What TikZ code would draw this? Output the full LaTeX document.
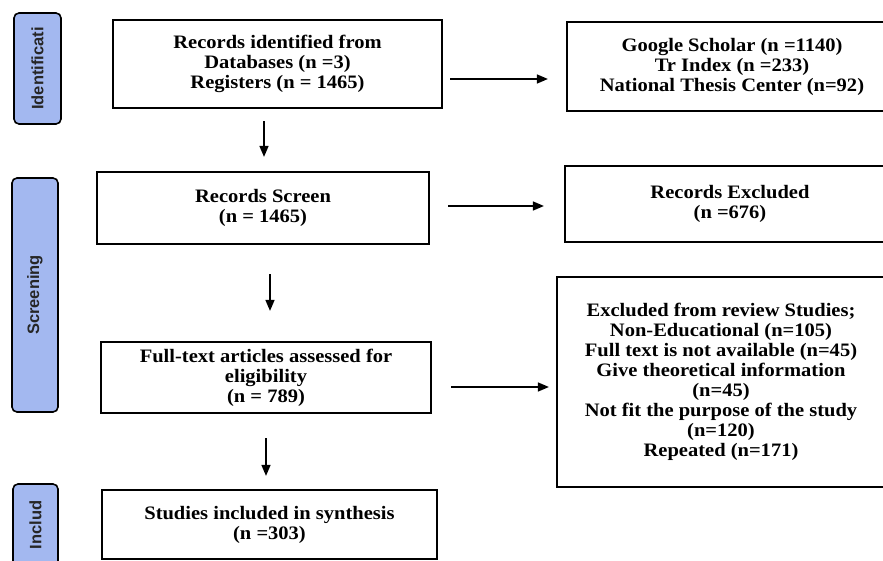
\documentclass[tikz,border=0pt]{standalone}
\usepackage{fontspec}
\setmainfont[FakeStretch=1.08]{Liberation Serif}
\newfontfamily\lblfont{Liberation Sans}
\usetikzlibrary{arrows.meta}
\definecolor{lblblue}{RGB}{163,184,240}
\begin{document}
\begin{tikzpicture}[x=1pt,y=-1pt,
  pbox/.style={draw=black, line width=2.2pt, inner sep=0pt, align=center,
    font=\bfseries\fontsize{19}{20}\selectfont},
  lbl/.style={draw=black, line width=1.6pt, rounded corners=5pt, fill=lblblue,
    inner sep=0pt, rotate=90, text=black!85,
    font=\lblfont\bfseries\fontsize{16.5}{17}\selectfont},
  arr/.style={-{Triangle[length=11pt,width=9pt]}, line width=1.5pt}]
\useasboundingbox (0,0) rectangle (883,561);
\clip (0,0) rectangle (883,561);
\fill[white] (0,0) rectangle (883,561);

% phase labels
\node[lbl, minimum width=111pt, minimum height=47pt] (lid) at (37.5,68.5) {Identificati};
\node[lbl, minimum width=234pt, minimum height=46pt] (lsc) at (35,295) {Screening};
\node[lbl, minimum width=82pt, minimum height=45pt] (lin) at (35.5,525) {Includ};

% boxes
\node[pbox, minimum width=329pt, minimum height=88pt] (rec) at (277.5,64)
  {Records identified from\\Databases (n =3)\\Registers (n = 1465)};
\node[pbox, minimum width=330pt, minimum height=89pt] (src) at (732,66.5)
  {Google Scholar (n =1140)\\Tr Index (n =233)\\National Thesis Center (n=92)};
\node[pbox, minimum width=332pt, minimum height=72pt] (screen) at (263,208)
  {Records Screen\\(n = 1465)};
\node[pbox, minimum width=330pt, minimum height=76pt] (excl) at (730,204)
  {Records Excluded\\(n =676)};
\node[pbox, minimum width=328pt, minimum height=210pt] (excl2) at (721,382)
  {Excluded from review Studies;\\Non-Educational (n=105)\\Full text is not available (n=45)\\Give theoretical information\\(n=45)\\Not fit the purpose of the study\\(n=120)\\Repeated (n=171)};
\node[pbox, minimum width=330pt, minimum height=71pt] (full) at (266,377.5)
  {Full-text articles assessed for\\eligibility\\(n = 789)};
\node[pbox, minimum width=335pt, minimum height=69pt] (incl) at (269.5,524.5)
  {Studies included in synthesis\\(n =303)};

% connector guides
\coordinate (ya1) at (0,79);
\coordinate (xa2) at (264,0);
\coordinate (ya3) at (0,206);
\coordinate (xa4) at (270,0);
\coordinate (ya5) at (0,387);
\coordinate (xa6) at (266,0);

\draw[arr, shorten <=7pt, shorten >=18pt] (rec.east |- ya1) -- (src.west |- ya1);
\draw[arr, shorten <=12pt, shorten >=14pt] (rec.south -| xa2) -- (screen.north -| xa2);
\draw[arr, shorten <=18pt, shorten >=20pt] (screen.east |- ya3) -- (excl.west |- ya3);
\draw[arr, shorten <=29pt, shorten >=30pt] (screen.south -| xa4) -- (full.north -| xa4);
\draw[arr, shorten <=19pt, shorten >=7pt] (full.east |- ya5) -- (excl2.west |- ya5);
\draw[arr, shorten <=24pt, shorten >=13pt] (full.south -| xa6) -- (incl.north -| xa6);
\end{tikzpicture}
\end{document}
